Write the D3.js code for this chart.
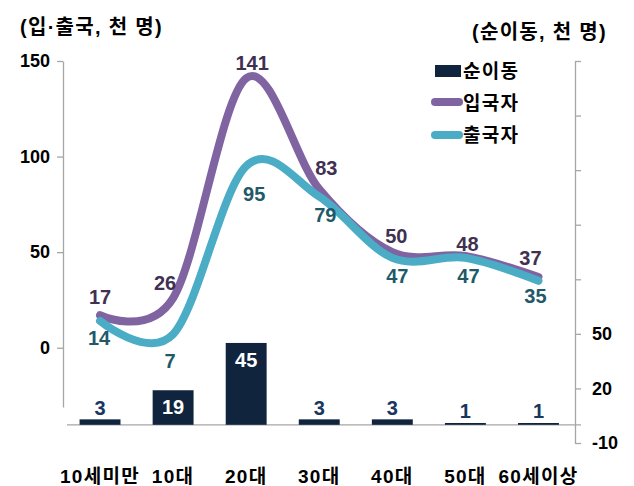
<!DOCTYPE html>
<html lang="ko">
<head>
  <meta charset="UTF-8">
  <title>연령대별 입·출국자</title>
  <script src="https://d3js.org/d3.v7.min.js"></script>
  <style>
    body { margin: 0; background: #fff; }
    svg { display: block; }
    text {
      font-family: "Liberation Sans", Arial, "Noto Sans CJK KR", sans-serif;
      font-weight: bold;
    }
    .ko { letter-spacing: 1.3px; }
    .axis-line { stroke: #a6a6a6; stroke-width: 1.3; fill: none; }
  </style>
</head>
<body>
<svg width="634" height="486"></svg>
<script>
// === Data ===
const ages = ["10세미만", "10대", "20대", "30대", "40대", "50대", "60세이상"];
const inbound = [17, 26, 141, 83, 50, 48, 37];   // 입국자
const outbound = [14, 7, 95, 79, 47, 47, 35];    // 출국자
const net = [3, 19, 45, 3, 3, 1, 1];             // 순이동
const leftTicks = [0, 50, 100, 150];
const rightTicks = [-10, 20, 50, 80, 110, 140, 170, 200];
const rightLabels = [-10, 20, 50];

// label nudges (dx, dy) from each point
const inNudge = [[0, -18], [-8, -15], [6, -15], [7, -21], [4, -16], [2, -12], [-8, -19]];
const outNudge = [[-1, 17], [-3, 27], [8, 28], [6, 18], [5, 18], [3, 18], [-3, 15]];

const colors = { net: "#10243e", inb: "#8064a2", outb: "#4bacc6",
                 inbText: "#3f3151", outbText: "#215968", netText: "#17375e" };

const svg = d3.select("svg");

// === Scales ===
const x = d3.scaleBand().domain(ages).range([63.5, 575]).paddingInner(0.44).paddingOuter(0.22);
const yL = d3.scaleLinear().domain([-31, 150]).range([407, 61]);
const yR = d3.scaleLinear().domain([-10, 200]).range([443, 61]);
const cx = d => x(d) + x.bandwidth() / 2;

// === Axes ===
const left = svg.append("g").attr("transform", "translate(63,0)")
  .call(d3.axisLeft(yL).tickValues(leftTicks).tickSize(6).tickPadding(7).tickSizeOuter(0));
const right = svg.append("g").attr("transform", "translate(575,0)")
  .call(d3.axisRight(yR).tickValues(rightTicks).tickSize(6).tickPadding(11).tickSizeOuter(0)
    .tickFormat(d => rightLabels.includes(d) ? d : ""));
[left, right].forEach(g => {
  g.select(".domain").attr("class", "axis-line");
  g.selectAll(".tick line").attr("stroke", "#a6a6a6").attr("stroke-width", 1.3);
  g.selectAll(".tick text").attr("fill", "#000").style("font-size", "18px");
});

// x axis baseline at 0 of the right axis
svg.append("line").attr("class", "axis-line")
  .attr("x1", 67).attr("x2", 581)
  .attr("y1", yR(0)).attr("y2", yR(0));

// category labels
svg.append("g").selectAll("text").data(ages).join("text")
  .attr("class", "ko")
  .attr("x", d => cx(d)).attr("y", 483)
  .attr("text-anchor", "middle")
  .style("font-size", "19px")
  .text(d => d);

// axis titles
svg.append("text").attr("class", "ko").attr("x", 20).attr("y", 34)
  .style("font-size", "20px").text("(입·출국, 천 명)");
svg.append("text").attr("class", "ko").attr("x", 607).attr("y", 39).attr("text-anchor", "end")
  .style("font-size", "20px").text("(순이동, 천 명)");

// === Bars ===
svg.append("g").selectAll("rect").data(net).join("rect")
  .attr("x", (d, i) => x(ages[i]))
  .attr("width", x.bandwidth())
  .attr("y", d => yR(d))
  .attr("height", d => yR(0) - yR(d))
  .attr("fill", colors.net);

svg.append("g").selectAll("text").data(net).join("text")
  .attr("x", (d, i) => cx(ages[i]))
  .attr("y", d => d >= 10 ? yR(d) + 17 : yR(d) - 11.5)
  .attr("dy", "0.35em")
  .attr("text-anchor", "middle")
  .attr("fill", d => d >= 10 ? "#fff" : colors.netText)
  .style("font-size", "20px")
  .text(d => d);

// === Lines ===
const line = d3.line()
  .x((d, i) => cx(ages[i]))
  .y(d => yL(d))
  .curve(d3.curveCardinal.tension(0));

svg.append("path").datum(inbound)
  .attr("d", line).attr("fill", "none")
  .attr("stroke", colors.inb).attr("stroke-width", 8).attr("stroke-linecap", "round");
svg.append("path").datum(outbound)
  .attr("d", line).attr("fill", "none")
  .attr("stroke", colors.outb).attr("stroke-width", 8).attr("stroke-linecap", "round");

function labels(values, nudge, color) {
  svg.append("g").selectAll("text").data(values).join("text")
    .attr("x", (d, i) => cx(ages[i]) + nudge[i][0])
    .attr("y", (d, i) => yL(d) + nudge[i][1])
    .attr("dy", "0.35em")
    .attr("text-anchor", "middle")
    .attr("fill", color)
    .style("font-size", "20px")
    .text(d => d);
}
labels(inbound, inNudge, colors.inbText);
labels(outbound, outNudge, colors.outbText);

// === Legend ===
const legend = svg.append("g").attr("transform", "translate(431,0)");
legend.append("rect").attr("x", 4).attr("y", 65).attr("width", 26).attr("height", 12).attr("fill", colors.net);
[[102, colors.inb], [135, colors.outb]].forEach(([yy, c]) => {
  legend.append("line").attr("x1", 4).attr("x2", 28).attr("y1", yy).attr("y2", yy)
    .attr("stroke", c).attr("stroke-width", 8).attr("stroke-linecap", "round");
});
[["순이동", 71], ["입국자", 103], ["출국자", 135]].forEach(([t, yy]) => {
  legend.append("text").attr("class", "ko").attr("x", 32).attr("y", yy).attr("dy", "0.36em")
    .style("font-size", "19px").text(t);
});
</script>
</body>
</html>
